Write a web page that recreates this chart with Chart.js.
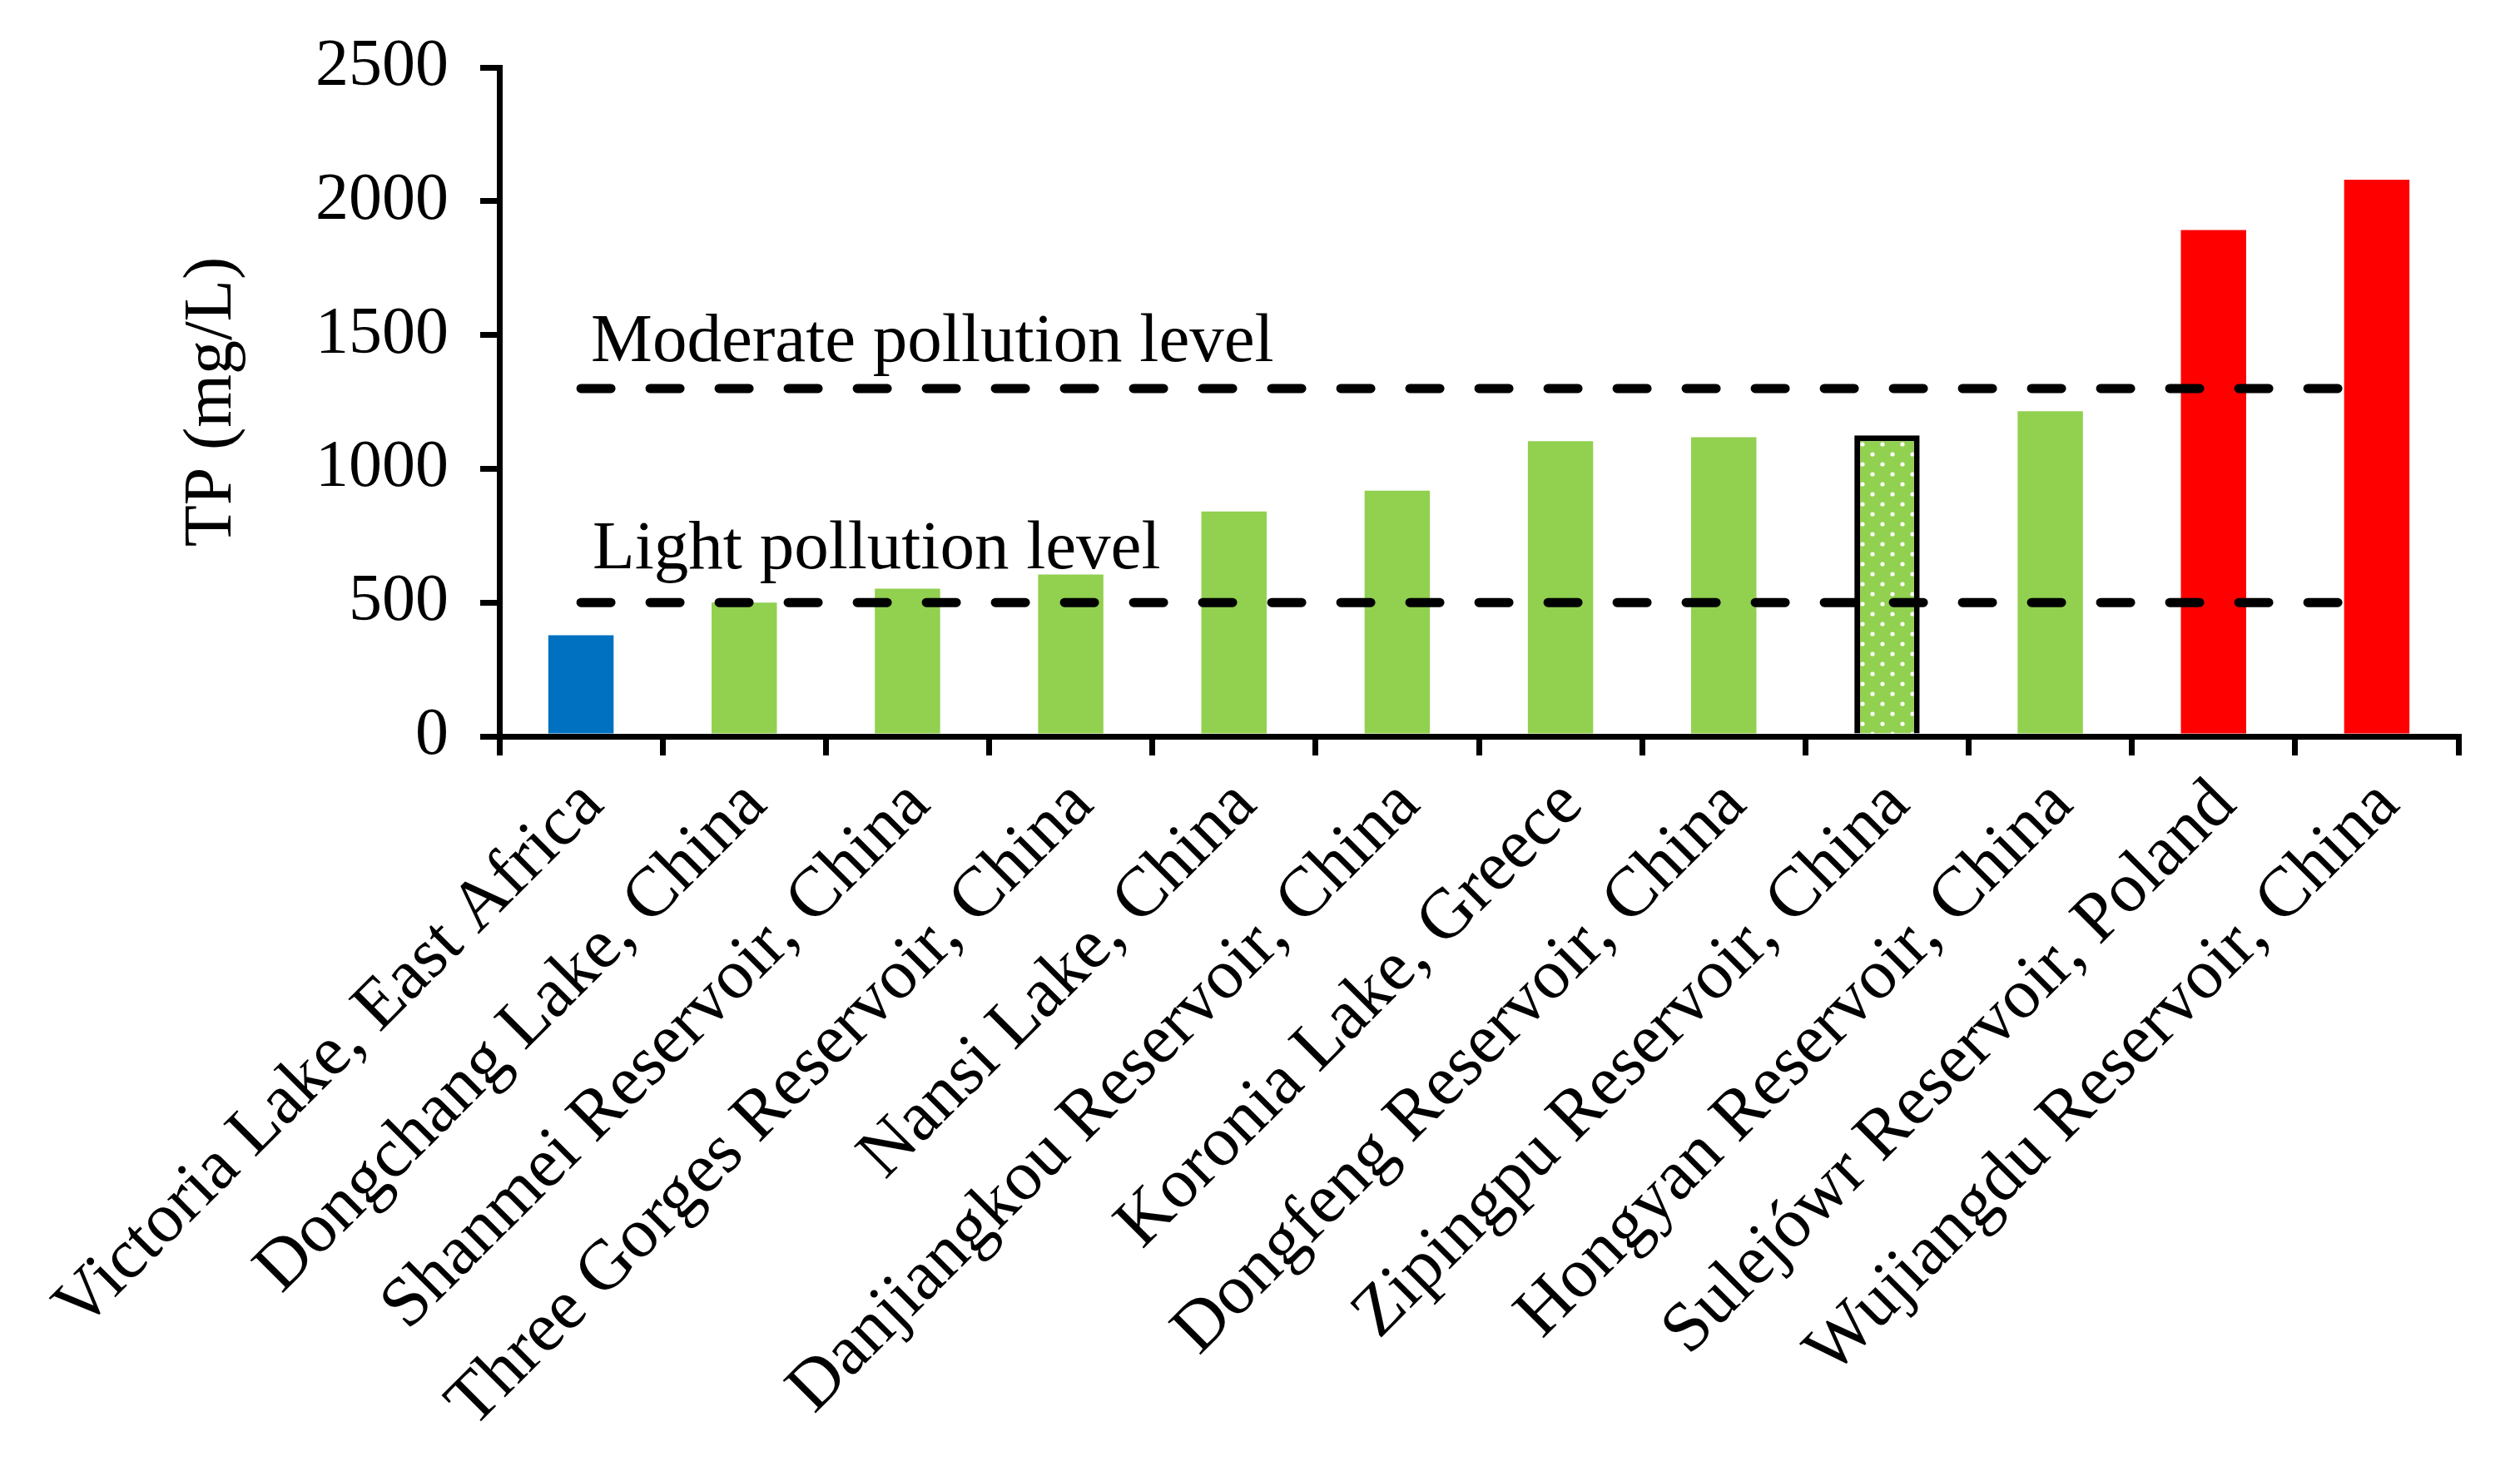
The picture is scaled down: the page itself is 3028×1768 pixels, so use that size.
<!DOCTYPE html>
<html>
<head>
<meta charset="utf-8">
<style>
  html, body { margin: 0; padding: 0; background: #fff; }
  #wrap { width: 3028px; height: 1768px; position: relative; }
</style>
</head>
<body>
<div id="wrap">
  <canvas id="tpChart"></canvas>
</div>
<script src="https://cdn.jsdelivr.net/npm/chart.js"></script>
<script>

// chart data
var lakes = [
    'Victoria Lake, East Africa',
    'Dongchang Lake, China',
    'Shanmei Reservoir, China',
    'Three Gorges Reservoir, China',
    'Nansi Lake, China',
    'Danjiangkou Reservoir, China',
    'Koronia Lake, Greece',
    'Dongfeng Reservoir, China',
    'Zipingpu Reservoir, China',
    'Hongyan Reservoir, China',
    'Sulejówr Reservoir, Poland',
    'Wujiangdu Reservoir, China'
];
var tpValues = [378, 500, 552, 605, 840, 918, 1103, 1118, 1125, 1215, 1892, 2080];
var barGroup = ['clean', 'light', 'light', 'light', 'light', 'light', 'light', 'light', 'study', 'light', 'heavy', 'heavy'];
var yTicks = [0, 500, 1000, 1500, 2000, 2500];
var lightLevel = 500;
var moderateLevel = 1300;
var lightText = 'Light pollution level';
var moderateText = 'Moderate pollution level';

var FONT = "'Liberation Serif', 'Times New Roman', serif";
var GREEN = '#92D050';

// dotted fill for the Zipingpu bar
function dotPattern() {
    var c = document.createElement('canvas');
    c.width = 24;
    c.height = 24;
    var g = c.getContext('2d');
    g.fillStyle = GREEN;
    g.fillRect(0, 0, 24, 24);
    g.fillStyle = '#fff';
    [[6, 6], [18, 18]].forEach(function (p) {
        g.beginPath();
        g.arc(p[0], p[1], 2.6, 0, Math.PI * 2);
        g.fill();
    });
    return g.createPattern(c, 'repeat');
}

var groupColor = {
    clean: '#0070C0',
    light: GREEN,
    study: dotPattern(),
    heavy: '#FF0000'
};

var levelText = {
    id: 'levelText',
    afterDatasetsDraw: function (chart) {
        var ctx = chart.ctx;
        var x = chart.scales.x;
        var y = chart.scales.y;
        ctx.save();
        ctx.fillStyle = '#000';
        ctx.font = '83px ' + FONT;
        ctx.textAlign = 'left';
        ctx.textBaseline = 'alphabetic';
        ctx.fillText(moderateText, x.getPixelForValue(0) + 12, y.getPixelForValue(moderateLevel) - 33);
        ctx.fillText(lightText, x.getPixelForValue(0) + 14, y.getPixelForValue(lightLevel) - 41);
        ctx.restore();
    }
};

function levelLine(value) {
    return {
        type: 'line',
        data: lakes.map(function () { return value; }),
        borderColor: '#000',
        borderWidth: 11,
        borderDash: [36, 47],
        borderCapStyle: 'round',
        pointRadius: 0,
        fill: false,
        order: 0
    };
}

var ctx = document.getElementById('tpChart').getContext('2d');
var tpChart = new Chart(ctx, {
    type: 'bar',
    data: {
        labels: lakes,
        datasets: [
            levelLine(moderateLevel),
            levelLine(lightLevel),
            {
                type: 'bar',
                data: tpValues,
                backgroundColor: barGroup.map(function (g) { return groupColor[g]; }),
                borderColor: '#000',
                borderWidth: barGroup.map(function (g) { return g === 'study' ? 7 : 0; }),
                borderSkipped: 'start',
                barPercentage: 0.4,
                categoryPercentage: 1,
                order: 1
            }
        ]
    },
    options: {
        responsive: true,
        maintainAspectRatio: false,
        devicePixelRatio: 1,
        animation: false,
        layout: { padding: { top: 81, right: 74, left: 0, bottom: 0 } },
        plugins: {
            legend: { display: false },
            tooltip: { enabled: false }
        },
        scales: {
            x: {
                grid: { drawOnChartArea: false, color: '#000', lineWidth: 7, tickLength: 23, offset: true },
                border: { display: true, color: '#000', width: 7 },
                ticks: {
                    color: '#000',
                    font: { family: FONT, size: 85 },
                    minRotation: 45,
                    maxRotation: 45,
                    autoSkip: false,
                    labelOffset: 14,
                    padding: 10
                },
                afterFit: function (scale) {
                    scale.height = 1768 - 885;
                    scale.paddingLeft = 0;
                    scale.paddingRight = 0;
                }
            },
            y: {
                min: 0,
                max: 2500,
                afterBuildTicks: function (scale) {
                    scale.ticks = yTicks.map(function (v) { return { value: v }; });
                },
                grid: { drawOnChartArea: false, color: '#000', lineWidth: 7, tickLength: 23 },
                border: { display: true, color: '#000', width: 7 },
                ticks: {
                    color: '#000',
                    font: { family: FONT, size: 80 },
                    padding: 38,
                    callback: function (value) { return String(value); }
                },
                title: {
                    display: true,
                    text: 'TP (mg/L)',
                    color: '#000',
                    font: { family: FONT, size: 82 },
                    padding: { top: 206, bottom: 0 }
                },
                afterFit: function (scale) {
                    scale.width = 600;
                    scale.paddingTop = 0;
                    scale.paddingBottom = 0;
                }
            }
        }
    },
    plugins: [levelText]
});
</script>
</body>
</html>
